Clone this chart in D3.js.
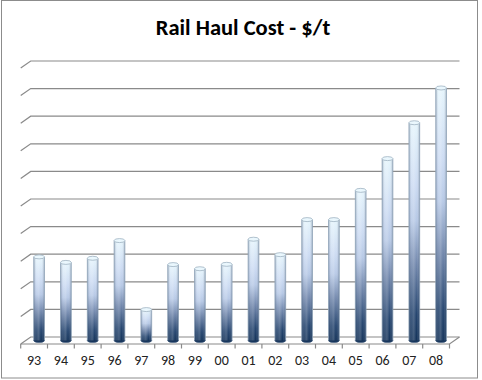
<!DOCTYPE html>
<html>
<head>
<meta charset="utf-8">
<script src="https://cdn.jsdelivr.net/npm/d3@7"></script>
<style>
  html, body { margin: 0; padding: 0; background: #fff; }
  svg { display: block; }
</style>
</head>
<body>
<script>
const title = "Rail Haul Cost - $/t";
const categories = ["93","94","95","96","97","98","99","00","01","02","03","04","05","06","07","08"];
const values = [3.03, 2.83, 2.98, 3.62, 1.12, 2.75, 2.60, 2.76, 3.67, 3.11, 4.38, 4.38, 5.44, 6.59, 7.89, 9.15];
const yMax = 10;
const gridTicks = [0,1,2,3,4,5,6,7,8,9,10];

const W = 482, H = 380;
const svg = d3.select("body").append("svg").attr("width", W).attr("height", H);

// chart frame
svg.append("rect").attr("x", 1.5).attr("y", 0.5).attr("width", 476).attr("height", 377.5)
  .attr("fill", "#fff").attr("stroke", "#8c8c8c").attr("stroke-width", 1);

svg.append("text").attr("x", 243).attr("y", 34.5).attr("text-anchor", "middle")
  .attr("font-family", "Carlito, Lato, 'Open Sans', sans-serif").attr("font-weight", "bold")
  .attr("font-size", 22.5).attr("fill", "#000").text(title);

const depthX = 10, depthY = 7;
const x = d3.scaleBand().domain(categories).range([20.7, 449.5]).padding(0);
const y = d3.scaleLinear().domain([0, yMax]).range([337, 61]);
const bw = x.bandwidth();

const defs = svg.append("defs");
const vg = defs.append("linearGradient").attr("id", "vg").attr("x1", 0).attr("y1", 1).attr("x2", 0).attr("y2", 0);
[[0, "#14335a"], [0.12, "#25456f"], [0.35, "#7288ad"], [0.55, "#b7c9e6"], [0.72, "#cddcf3"], [1, "#e6f5fc"]]
  .forEach(([o, c]) => vg.append("stop").attr("offset", o).attr("stop-color", c));
const hg = defs.append("linearGradient").attr("id", "hg").attr("x1", 0).attr("y1", 0).attr("x2", 1).attr("y2", 0);
[[0, "rgba(40,60,90,0.35)"], [0.25, "rgba(255,255,255,0.12)"], [0.45, "rgba(255,255,255,0.2)"], [0.7, "rgba(255,255,255,0)"], [1, "rgba(40,60,90,0.35)"]]
  .forEach(([o, c]) => hg.append("stop").attr("offset", o).attr("stop-color", c));

// gridlines (back wall + left side diagonal)
const line = d3.line();
const x0 = x.range()[0], x1 = x.range()[1];
svg.append("g").selectAll("path").data(gridTicks).join("path")
  .attr("d", t => line([[x0, y(t) + depthY], [x0 + depthX, y(t)], [x1 + depthX, y(t)]]))
  .attr("fill", "none").attr("stroke", "#8a8a8a").attr("stroke-width", 1.2);

// floor front edge and right side
svg.append("path")
  .attr("d", line([[x0, y(0) + depthY], [x1, y(0) + depthY], [x1 + depthX, y(0)]]))
  .attr("fill", "none").attr("stroke", "#8a8a8a").attr("stroke-width", 1.2);

// ticks at category boundaries
const bounds = categories.map(c => x(c)).concat([x1]);
svg.append("g").selectAll("line").data(bounds).join("line")
  .attr("x1", d => d).attr("x2", d => d)
  .attr("y1", y(0) + depthY).attr("y2", y(0) + depthY + 4.5)
  .attr("stroke", "#8a8a8a").attr("stroke-width", 1.2);

// category labels
const ax = svg.append("g").attr("transform", `translate(0,${y(0) + depthY})`)
  .call(d3.axisBottom(x).tickSize(0).tickPadding(11));
ax.select(".domain").remove();
ax.selectAll("text").attr("font-family", "Carlito, Lato, 'Open Sans', sans-serif")
  .attr("font-size", 14).attr("fill", "#222");

// bars (cylinders)
const bwBar = bw * 0.4;
const ry = 2;
const bars = svg.append("g").selectAll("g").data(categories.map((c, i) => ({ c, v: values[i] }))).join("g");
const cx = d => x(d.c) + bw / 2 + depthX / 2;
const base = y(0) + depthY / 2;
const topY = d => y(d.v) + depthY / 2;

bars.append("ellipse").attr("cx", cx).attr("cy", base).attr("rx", bwBar / 2).attr("ry", ry)
  .attr("fill", "#14335a").attr("stroke", "#3b5577").attr("stroke-width", 0.6);
bars.append("rect").attr("x", d => cx(d) - bwBar / 2).attr("y", topY)
  .attr("width", bwBar).attr("height", d => base - topY(d))
  .attr("fill", "url(#vg)");
bars.append("rect").attr("x", d => cx(d) - bwBar / 2).attr("y", topY)
  .attr("width", bwBar).attr("height", d => base - topY(d))
  .attr("fill", "url(#hg)");
bars.append("path")
  .attr("d", d => line([[cx(d) - bwBar / 2, topY(d)], [cx(d) - bwBar / 2, base]]) + line([[cx(d) + bwBar / 2, topY(d)], [cx(d) + bwBar / 2, base]]))
  .attr("stroke", "#8fa3b8").attr("stroke-width", 0.8).attr("fill", "none");
bars.append("ellipse").attr("cx", cx).attr("cy", topY).attr("rx", bwBar / 2).attr("ry", ry)
  .attr("fill", "#eaf7fd").attr("stroke", "#9fb2c2").attr("stroke-width", 0.8);
</script>
</body>
</html>
